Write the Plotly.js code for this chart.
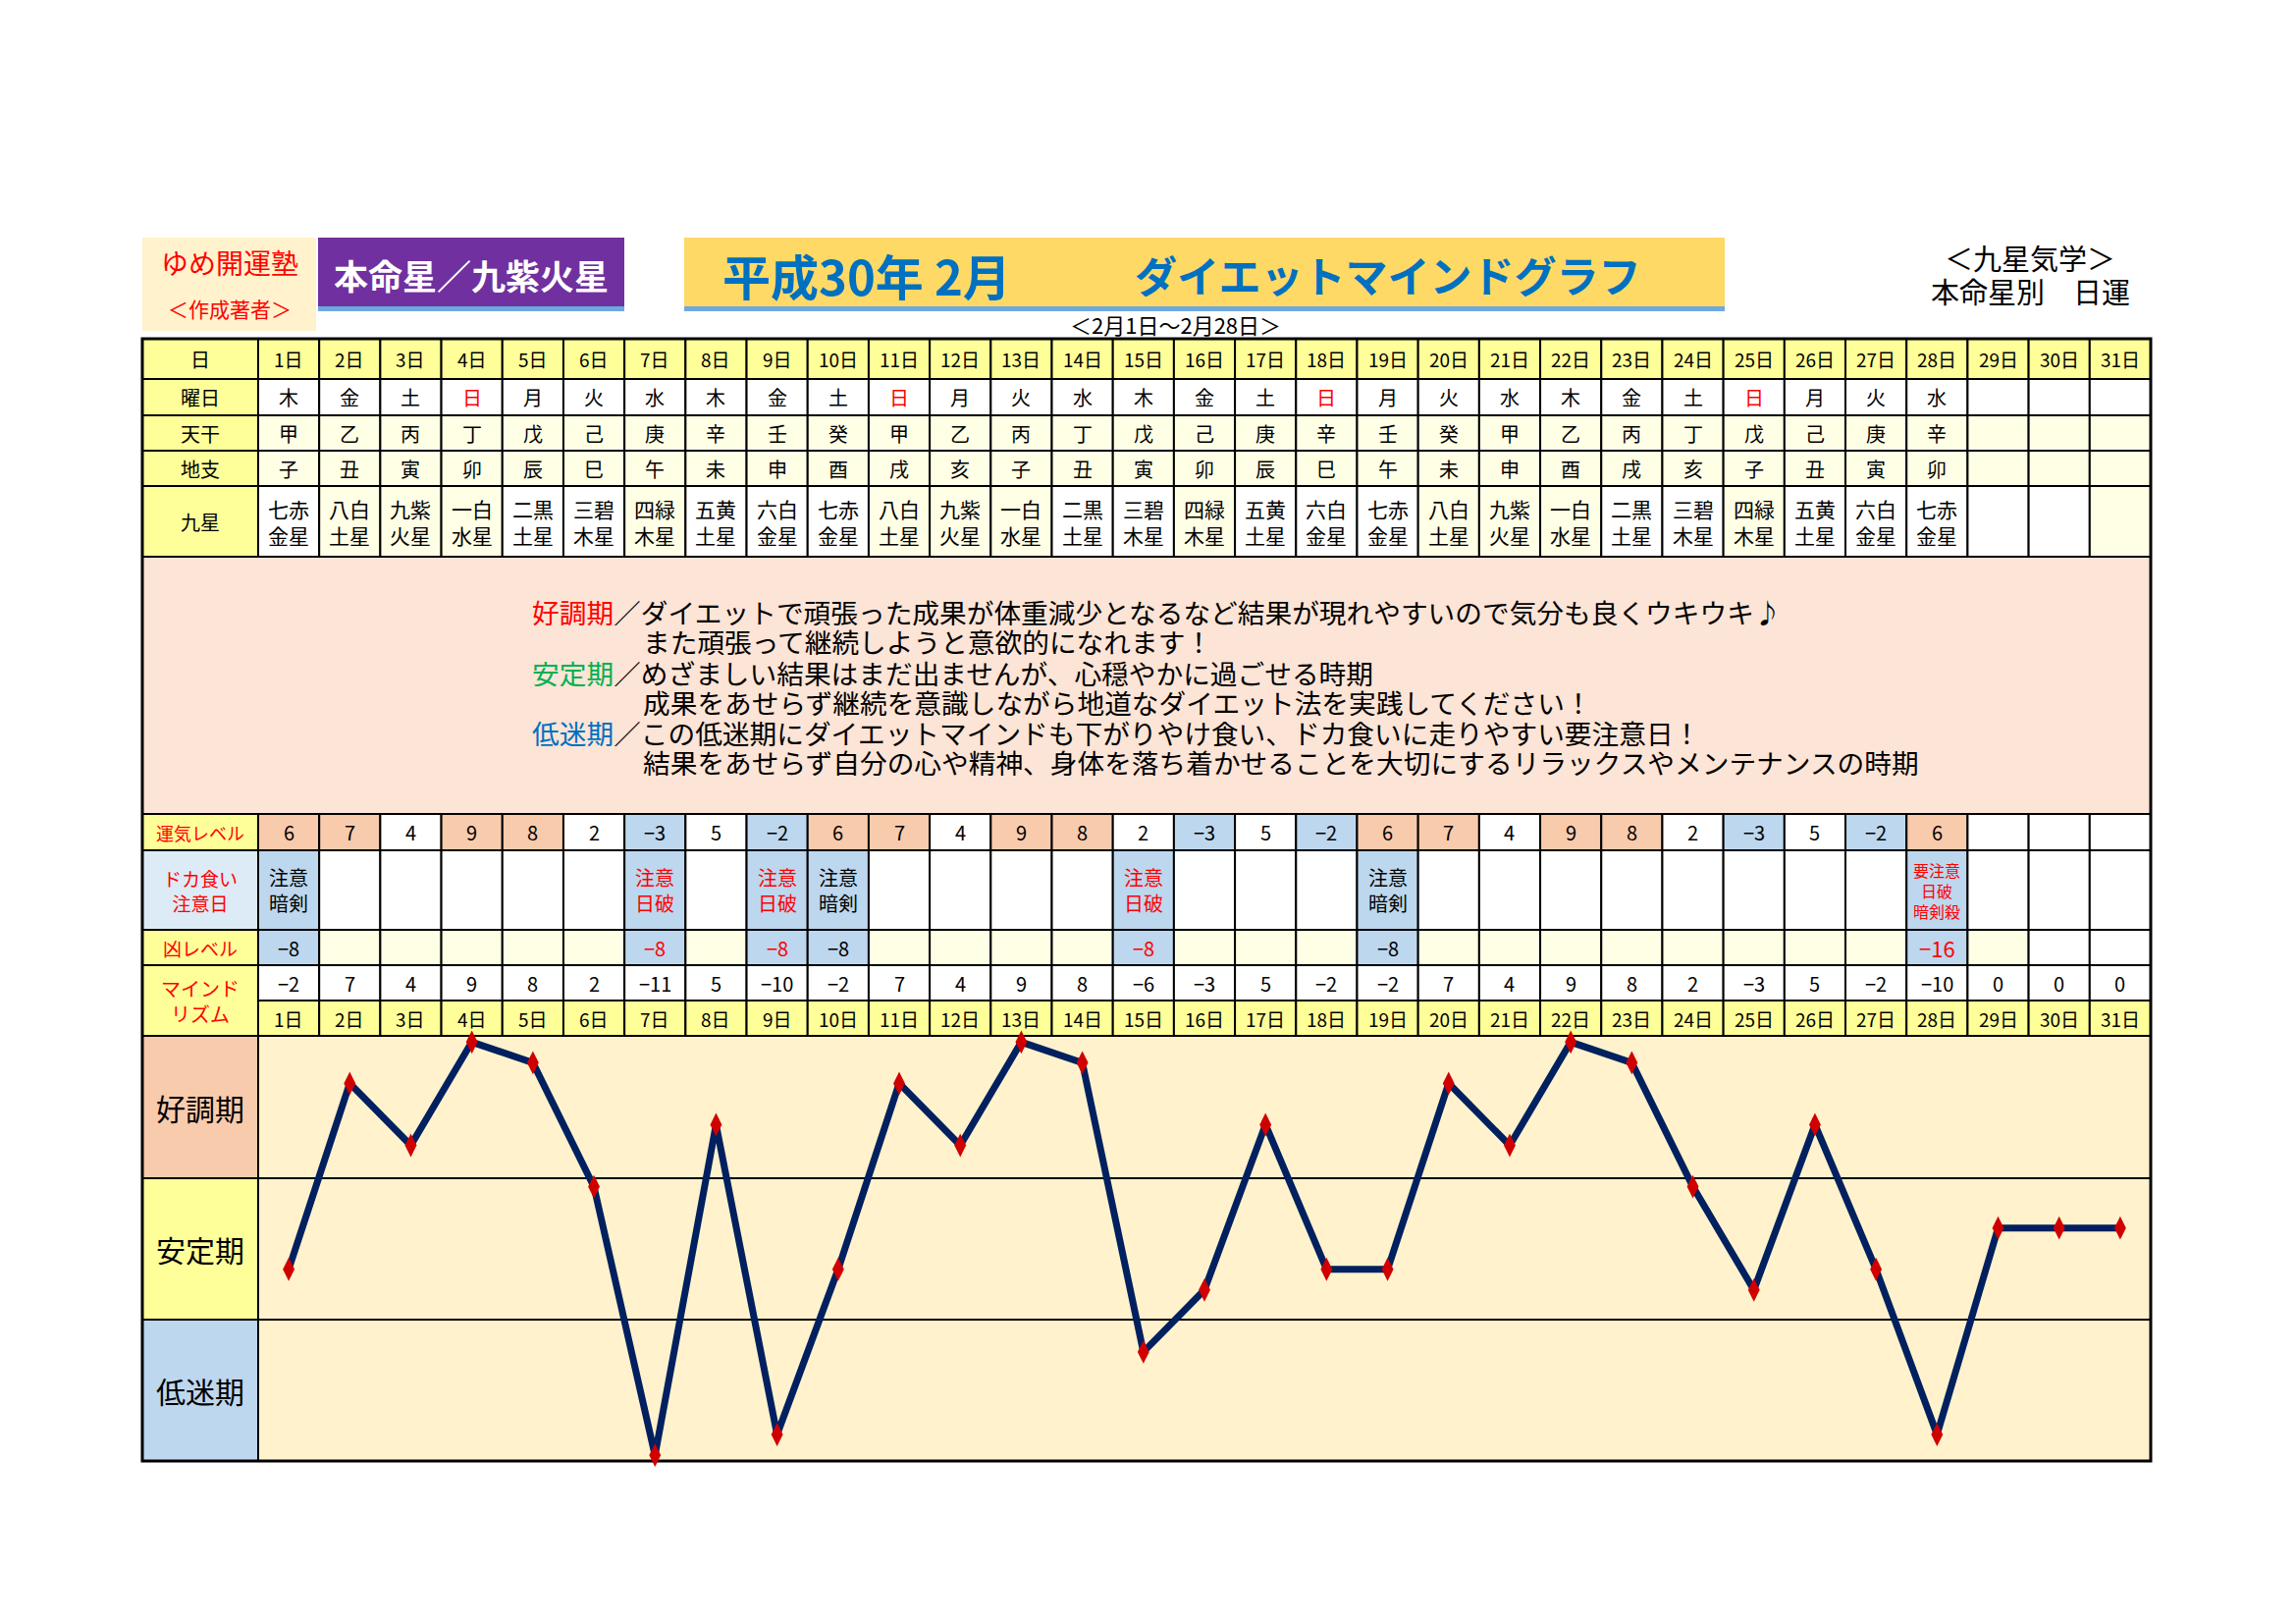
<!DOCTYPE html>
<html><head><meta charset="utf-8">
<script src="https://cdn.plot.ly/plotly-3.0.1.min.js"></script>
<style>html,body{margin:0;padding:0;background:#fff}</style>
</head><body><div id="chart" style="width:2339px;height:1654px"></div>
<script>
// ---------- data ----------
const days = ['1日','2日','3日','4日','5日','6日','7日','8日','9日','10日','11日','12日','13日','14日','15日','16日','17日','18日','19日','20日','21日','22日','23日','24日','25日','26日','27日','28日','29日','30日','31日'];
const weekdays = ['木','金','土','日','月','火','水','木','金','土','日','月','火','水','木','金','土','日','月','火','水','木','金','土','日','月','火','水','','',''];
const tenkan = ['甲','乙','丙','丁','戊','己','庚','辛','壬','癸','甲','乙','丙','丁','戊','己','庚','辛','壬','癸','甲','乙','丙','丁','戊','己','庚','辛','','',''];
const chishi = ['子','丑','寅','卯','辰','巳','午','未','申','酉','戌','亥','子','丑','寅','卯','辰','巳','午','未','申','酉','戌','亥','子','丑','寅','卯','','',''];
const kyusei = ['七赤<br>金星','八白<br>土星','九紫<br>火星','一白<br>水星','二黒<br>土星','三碧<br>木星','四緑<br>木星','五黄<br>土星','六白<br>金星','七赤<br>金星','八白<br>土星','九紫<br>火星','一白<br>水星','二黒<br>土星','三碧<br>木星','四緑<br>木星','五黄<br>土星','六白<br>金星','七赤<br>金星','八白<br>土星','九紫<br>火星','一白<br>水星','二黒<br>土星','三碧<br>木星','四緑<br>木星','五黄<br>土星','六白<br>金星','七赤<br>金星','','',''];
const unkiLevel = [6,7,4,9,8,2,-3,5,-2,6,7,4,9,8,2,-3,5,-2,6,7,4,9,8,2,-3,5,-2,6,null,null,null];
const dokaNote = ['注意<br>暗剣','','','','','','注意<br>日破','','注意<br>日破','注意<br>暗剣','','','','','注意<br>日破','','','','注意<br>暗剣','','','','','','','','','要注意<br>日破<br>暗剣殺','','',''];
const kyoLevel = [-8,null,null,null,null,null,-8,null,-8,-8,null,null,null,null,-8,null,null,null,-8,null,null,null,null,null,null,null,null,-16,null,null,null];
const mindRhythm = [-2,7,4,9,8,2,-11,5,-10,-2,7,4,9,8,-6,-3,5,-2,-2,7,4,9,8,2,-3,5,-2,-10,0,0,0];
const rowLabels = ['日','曜日','天干','地支','九星'];
const bandLabels = ['好調期','安定期','低迷期'];
const legendLines = [
  "<span style='color:#FF0000'>好調期</span>／ダイエットで頑張った成果が体重減少となるなど結果が現れやすいので気分も良くウキウキ♪",
  "また頑張って継続しようと意欲的になれます！",
  "<span style='color:#00B050'>安定期</span>／めざましい結果はまだ出ませんが、心穏やかに過ごせる時期",
  "成果をあせらず継続を意識しながら地道なダイエット法を実践してください！",
  "<span style='color:#0070C0'>低迷期</span>／この低迷期にダイエットマインドも下がりやけ食い、ドカ食いに走りやすい要注意日！",
  "結果をあせらず自分の心や精神、身体を落ち着かせることを大切にするリラックスやメンテナンスの時期"
];

// ---------- layout helpers ----------
const W = 2339, H = 1654;
const F = 'Noto Sans CJK JP';
const TL = 145, TC = 263, TR = 2191;
const R = {hdr:[345,386], wd:[386,423], tk:[423,459], cs:[459,495], ks:[495,567], txt:[567,829],
  unki:[829,866], doka:[866,947], kyo:[947,983], mind:[983,1019], dl:[1019,1055], chart:[1055,1488]};
const bands = [[1055,1200],[1200,1344],[1344,1488]];
const YEL = '#FFFF99', CREAM = '#FFFFE6', PEACH = '#F8CBAD', BLUE = '#BDD7EE', LBLUE = '#DDEBF7';
const shapes = [], ann = [];
const py = v => 1 - v / H;
function rectP(x0, x1, y0, y1, fill, lw) {
  shapes.push({type:'rect', xref:'paper', yref:'paper', x0:x0/W, x1:x1/W, y0:py(y1), y1:py(y0),
    fillcolor:fill, line:{color:'#000', width:lw}, layer:'below'});
}
function cellX(i, r, fill) {
  shapes.push({type:'rect', xref:'x', yref:'paper', x0:i-0.5, x1:i+0.5, y0:py(r[1]), y1:py(r[0]),
    fillcolor:fill, line:{color:'#000', width:2}, layer:'below'});
}
function txtP(x, y, text, size, color, xanchor, h) {
  const a = {xref:'paper', yref:'paper', x:x/W, y:py(y), text:text, showarrow:false,
    xanchor:xanchor||'center', yanchor:'middle', font:{family:F, size:size, color:color||'#000'}};
  if (h) { a.height = h; a.valign = 'middle'; }
  ann.push(a);
}
function txtX(i, y, text, size, color) {
  ann.push({xref:'x', yref:'paper', x:i, y:py(y), text:text, showarrow:false,
    xanchor:'center', yanchor:'middle', font:{family:F, size:size, color:color||'#000'}});
}
const mid = r => (r[0] + r[1]) / 2;
const fmt = v => v === null ? '' : (v < 0 ? '−' + Math.abs(v) : String(v));

// ---------- header boxes ----------
rectP(145, 322, 242, 337, '#FFF2CC', 0);
txtP(234, 267, 'ゆめ開運塾', 28, '#FF0000');
txtP(234, 314, '＜作成著者＞', 21, '#FF0000');
rectP(324, 636, 242, 312, '#7030A0', 0);
rectP(324, 636, 312, 317, '#6FA8DC', 0);
txtP(480, 279, '<b>本命星／九紫火星</b>', 35, '#FFFFFF');
rectP(697, 1757, 242, 312, '#FFD966', 0);
rectP(697, 1757, 312, 317, '#6FA8DC', 0);
txtP(734, 279, '<b>平成30年 2月</b>', 49, '#0070C0', 'left');
txtP(1414, 279, '<b>ダイエットマインドグラフ</b>', 43, '#0070C0');
txtP(1197, 330, '＜2月1日～2月28日＞', 22, '#000');
txtP(2068, 262, '＜九星気学＞', 29, '#000');
txtP(2068, 296, '本命星別　日運', 29, '#000');

// ---------- top table ----------
const topRows = [R.hdr, R.wd, R.tk, R.cs, R.ks];
rowLabels.forEach((lab, k) => { rectP(TL, TC, topRows[k][0], topRows[k][1], YEL, 2); txtP(mid([TL,TC]), mid(topRows[k]), lab, 20); });
const goodStars = ['八白<br>土星','九紫<br>火星','一白<br>水星','四緑<br>木星'];
days.forEach((d, i) => {
  cellX(i, R.hdr, YEL); txtX(i, mid(R.hdr), d, 19);
  cellX(i, R.wd, '#FFFFFF'); txtX(i, mid(R.wd), weekdays[i], 20, weekdays[i] === '日' ? '#FF0000' : '#000');
  cellX(i, R.tk, CREAM); txtX(i, mid(R.tk), tenkan[i], 20);
  cellX(i, R.cs, CREAM); txtX(i, mid(R.cs), chishi[i], 20);
  cellX(i, R.ks, (goodStars.includes(kyusei[i]) || i === 30) ? CREAM : '#FFFFFF'); txtX(i, mid(R.ks), kyusei[i], 21);
});

// ---------- legend text box ----------
rectP(TL, TR, R.txt[0], R.txt[1], '#FCE4D6', 2);
const lineY = [622, 652, 684, 714, 745, 775];
legendLines.forEach((t, k) => txtP(k % 2 === 0 ? 540 : 653, lineY[k], t, 27.7, '#000', 'left', 29));

// ---------- lower table ----------
rectP(TL, TC, R.unki[0], R.unki[1], YEL, 2); txtP(mid([TL,TC]), mid(R.unki), '運気レベル', 18, '#FF0000');
rectP(TL, TC, R.doka[0], R.doka[1], LBLUE, 2); txtP(mid([TL,TC]), mid(R.doka), 'ドカ食い<br>注意日', 19, '#FF0000');
rectP(TL, TC, R.kyo[0], R.kyo[1], YEL, 2); txtP(mid([TL,TC]), mid(R.kyo), '凶レベル', 19, '#FF0000');
rectP(TL, TC, R.mind[0], R.dl[1], YEL, 2); txtP(mid([TL,TC]), mid([R.mind[0], R.dl[1]]), 'マインド<br>リズム', 20, '#FF0000');
days.forEach((d, i) => {
  const u = unkiLevel[i];
  cellX(i, R.unki, u === null ? '#FFFFFF' : (u >= 6 ? PEACH : (u < 0 ? BLUE : '#FFFFFF')));
  txtX(i, mid(R.unki), fmt(u), 20);
  const note = dokaNote[i];
  const red = note.includes('日破');
  cellX(i, R.doka, note ? BLUE : '#FFFFFF');
  if (note) txtX(i, mid(R.doka), note, note.split('<br>').length > 2 ? 16 : 20, red ? '#FF0000' : '#000');
  const kv = kyoLevel[i];
  cellX(i, R.kyo, kv !== null ? BLUE : (i >= 29 ? '#FFFFFF' : CREAM));
  if (kv !== null) txtX(i, mid(R.kyo), fmt(kv), kv <= -16 ? 22 : 20, red ? '#FF0000' : '#000');
  cellX(i, R.mind, '#FFFFFF'); txtX(i, mid(R.mind), fmt(mindRhythm[i]), 20);
  cellX(i, R.dl, YEL); txtX(i, mid(R.dl), d, 19);
});

// ---------- chart area ----------
const bandFill = [PEACH, YEL, BLUE];
bandLabels.forEach((b, k) => {
  rectP(TL, TC, bands[k][0], bands[k][1], bandFill[k], 2);
  txtP(mid([TL,TC]), mid(bands[k]), b, 30);
  rectP(TC, TR, bands[k][0], bands[k][1], '#FFF2CC', 2);
});
// outer border
shapes.push({type:'rect', xref:'paper', yref:'paper', x0:TL/W, x1:TR/W, y0:py(R.chart[1]), y1:py(R.hdr[0]),
  fillcolor:'rgba(0,0,0,0)', line:{color:'#000', width:3}, layer:'below'});

const trace = {
  x: days, y: mindRhythm, type:'scatter', mode:'lines+markers', cliponaxis:false,
  line:{color:'#002060', width:7},
  marker:{symbol:'diamond-tall', size:17, color:'#D00000', line:{width:0}},
  hoverinfo:'skip'
};

const layout = {
  width: W, height: H, margin:{l:0, r:0, t:0, b:0},
  paper_bgcolor:'#FFFFFF', plot_bgcolor:'rgba(0,0,0,0)', showlegend:false,
  xaxis:{type:'category', domain:[TC/W, TR/W], range:[-0.5, 30.5], visible:false, fixedrange:true},
  yaxis:{domain:[py(R.chart[1]), py(R.chart[0])], range:[-11.28, 9.30], visible:false, fixedrange:true},
  shapes: shapes, annotations: ann,
  font:{family:F}
};
Plotly.newPlot('chart', [trace], layout, {staticPlot:true});
</script></body></html>
